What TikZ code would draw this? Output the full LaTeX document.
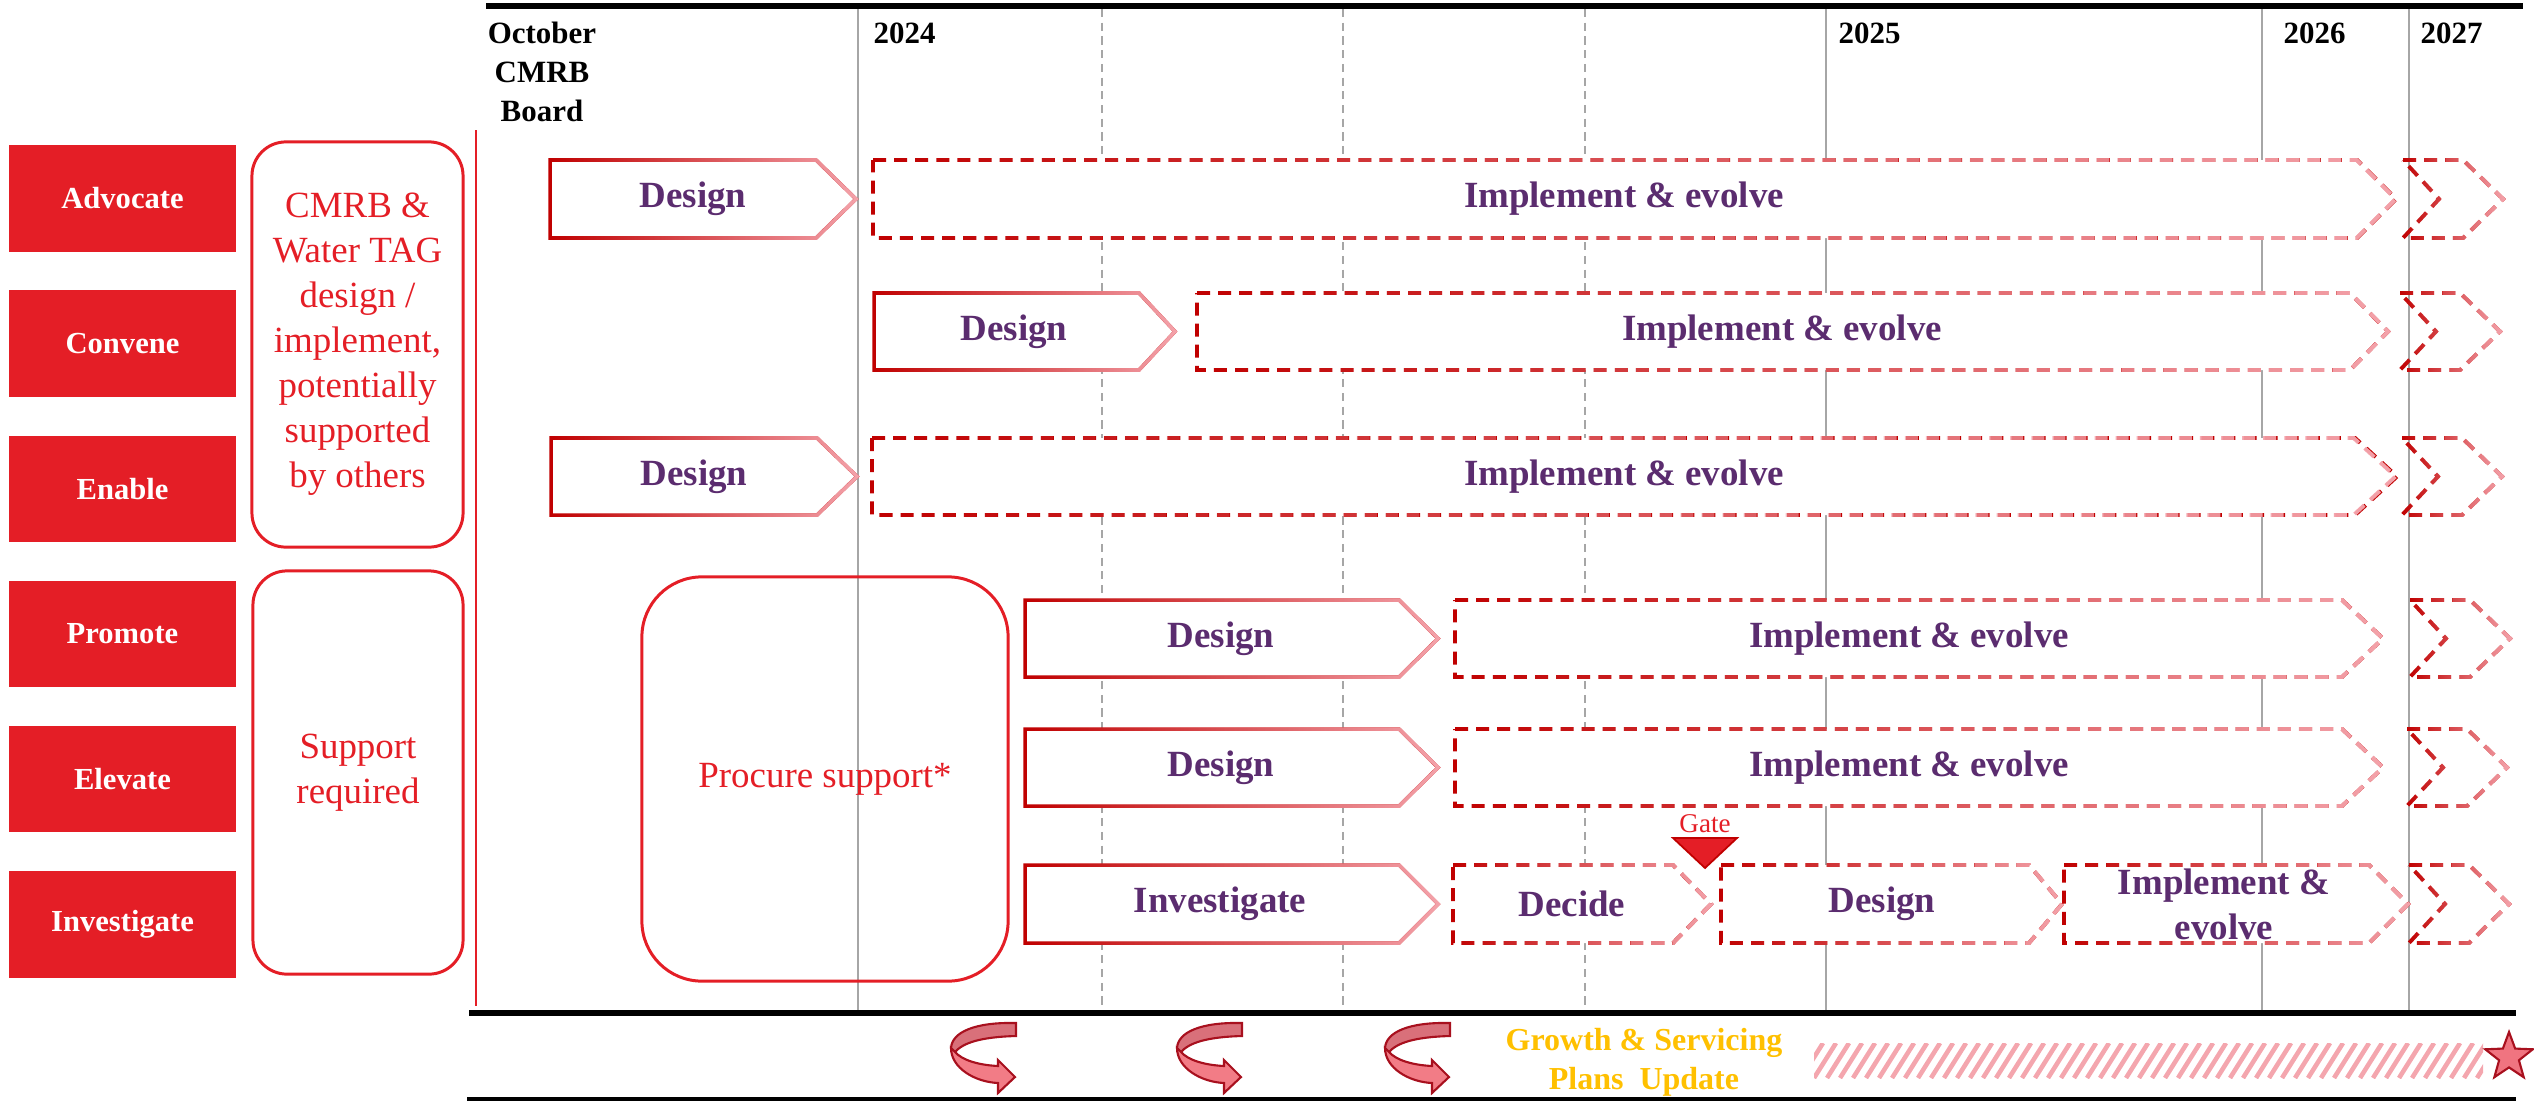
\documentclass[tikz,border=0pt]{standalone}
\usepackage{fontspec}
\setmainfont{Liberation Serif}
\usetikzlibrary{fadings,shapes.geometric}

\definecolor{boxred}{HTML}{E41E26}
\definecolor{phasedark}{HTML}{C00000}
\definecolor{phaselight}{HTML}{F4A3AB}
\definecolor{labelpurple}{HTML}{5B2C6F}
\definecolor{gridgray}{HTML}{A6A6A6}
\definecolor{updategold}{HTML}{FFC000}
\definecolor{hatchpink}{HTML}{F4A6AE}
\definecolor{starfill}{HTML}{F07480}
\definecolor{arrowback}{HTML}{D9707A}
\definecolor{arrowfront}{HTML}{F27C86}
\definecolor{arrowline}{HTML}{A8101E}

\tikzfading[name=phasefade, left color=transparent!100, right color=transparent!0]

\tikzstyle{rolebox}=[rectangle,fill=boxred,text=white,minimum width=2.27cm,minimum height=1.06cm,inner sep=0pt,font=\bfseries\fontsize{8.7}{10}\selectfont]
\tikzstyle{groupbox}=[rectangle,draw=boxred,line width=0.85pt,text=boxred,align=center,inner sep=0pt,font=\fontsize{10.5}{12.8}\selectfont]
\tikzstyle{phase label}=[text=labelpurple,align=center,inner sep=0pt,font=\bfseries\fontsize{10.5}{12.8}\selectfont]
\tikzstyle{year label}=[inner sep=0pt,font=\bfseries\fontsize{8.8}{11.1}\selectfont]
\tikzstyle{solid phase}=[line width=1pt]
\tikzstyle{dashed phase}=[line width=1.1pt,dash pattern=on 3.7pt off 2.3pt]
\tikzstyle{year line}=[draw=gridgray,line width=0.45pt]
\tikzstyle{quarter line}=[draw=gridgray,line width=0.45pt,dash pattern=on 2.3pt off 1.6pt]
\tikzstyle{frame rule}=[draw=black,line width=1.7pt]
\tikzstyle{hatch line}=[draw=hatchpink,line width=1.3pt]

% left, body end, tip, top, bottom, style
\newcommand{\phasearrow}[6]{%
	\path[fill=white] (#1,#4) -- (#2,#4) -- (#3,{(#4+#5)/2}) -- (#2,#5) -- (#1,#5) -- cycle;
	\draw[#6,phasedark] (#1,#4) -- (#2,#4) -- (#3,{(#4+#5)/2}) -- (#2,#5) -- (#1,#5) -- cycle;
	\draw[#6,phaselight,path fading=phasefade] (#1,#4) -- (#2,#4) -- (#3,{(#4+#5)/2}) -- (#2,#5) -- (#1,#5) -- cycle;
}
% left, top, bottom
\newcommand{\tailarrow}[3]{%
	\draw[dashed phase,phasedark] (#1,#2) -- ({#1+60},#2) -- ({#1+100},{(#2+#3)/2}) -- ({#1+60},#3) -- (#1,#3) -- ({#1+36},{(#2+#3)/2}) -- cycle;
	\draw[dashed phase,phaselight,path fading=phasefade] (#1,#2) -- ({#1+60},#2) -- ({#1+100},{(#2+#3)/2}) -- ({#1+60},#3) -- (#1,#3) -- ({#1+36},{(#2+#3)/2}) -- cycle;
}

\begin{document}
\begin{tikzpicture}[x=0.01cm,y=-0.01cm]
	\useasboundingbox (0,0) rectangle (2534,1103);
	% time grid
	\foreach \gx in {858,1826,2262,2409}
		\draw[year line] (\gx,9) -- (\gx,1011);
	\foreach \gx in {1102,1343,1585}
		\draw[quarter line] (\gx,9) -- (\gx,1011);
	\draw[frame rule] (486,6) -- (2523,6);
	\draw[frame rule] (469,1013) -- (2516,1013);
	\draw[draw=black,line width=1.2pt] (467,1099) -- (2516,1099);
	\draw[draw=boxred,line width=0.6pt] (476,130) -- (476,1006);

	\node[year label,align=center] (october) at (542,72) {October\\CMRB\\Board};
	\node[year label,anchor=west] (y2024) at (873,33) {2024};
	\node[year label,anchor=west] (y2025) at (1838,33) {2025};
	\node[year label,anchor=west] (y2026) at (2283,33) {2026};
	\node[year label,anchor=west] (y2027) at (2420,33) {2027};

	% roles and groups
	\foreach \role/\yc in {Advocate/198.5,Convene/343.5,Enable/489,Promote/634,Elevate/779,Investigate/924.5}
		\node[rolebox] (\role) at (122.5,\yc) {\role};
	\node[groupbox,rounded corners=0.34cm,minimum width=2.11cm,minimum height=4.05cm] (cmrb) at (357.5,344.5) {CMRB \&\\Water TAG\\design /\\implement,\\potentially\\supported\\by others};
	\node[groupbox,rounded corners=0.34cm,minimum width=2.1cm,minimum height=4.03cm] (support) at (358,772.5) {Support\\required};
	\node[groupbox,rounded corners=0.6cm,minimum width=3.66cm,minimum height=4.04cm] (procure) at (825,779) {Procure support*};

	% phases, row by row
	\phasearrow{550}{816}{856}{160}{238}{solid phase}
	\phasearrow{873}{2357}{2396}{160}{238}{dashed phase}
	\tailarrow{2403}{160}{238}
	\node[phase label] (design1) at (693,199) {Design};
	\node[phase label] (implement1) at (1624,199) {Implement \& evolve};

	\phasearrow{874}{1139}{1175}{293}{370}{solid phase}
	\phasearrow{1197}{2350}{2388}{293}{370}{dashed phase}
	\tailarrow{2400}{293}{370}
	\node[phase label] (design2) at (1014,331.5) {Design};
	\node[phase label] (implement2) at (1782,331.5) {Implement \& evolve};

	\phasearrow{551}{817}{857}{438}{515}{solid phase}
	\phasearrow{872}{2355}{2397}{438}{515}{dashed phase}
	\tailarrow{2402}{438}{515}
	\node[phase label] (design3) at (694,476.5) {Design};
	\node[phase label] (implement3) at (1624,476.5) {Implement \& evolve};

	\phasearrow{1025}{1399}{1438}{600}{677}{solid phase}
	\phasearrow{1455}{2342}{2383}{600}{677}{dashed phase}
	\tailarrow{2410}{600}{677}
	\node[phase label] (design4) at (1221,638.5) {Design};
	\node[phase label] (implement4) at (1909,638.5) {Implement \& evolve};

	\phasearrow{1025}{1399}{1438}{729}{806}{solid phase}
	\phasearrow{1455}{2342}{2383}{729}{806}{dashed phase}
	\tailarrow{2407}{729}{806}
	\node[phase label] (design5) at (1221,767.5) {Design};
	\node[phase label] (implement5) at (1909,767.5) {Implement \& evolve};

	\phasearrow{1025}{1399}{1438}{865}{943}{solid phase}
	\phasearrow{1453}{1673}{1711}{865}{943}{dashed phase}
	\phasearrow{1721}{2029}{2062}{865}{943}{dashed phase}
	\phasearrow{2064}{2369}{2408}{865}{943}{dashed phase}
	\tailarrow{2409}{865}{943}
	\node[phase label] (investigate6) at (1220,904) {Investigate};
	\node[phase label] (decide6) at (1572,904) {Decide};
	\node[phase label] (design6) at (1882,904) {Design};
	\node[phase label] (implement6) at (2224,904) {Implement \&\\evolve};

	% gate
	\filldraw[fill=boxred,draw=phasedark,line width=0.5pt] (1673,838) -- (1737,838) -- (1705,868) -- cycle;
	\node[text=boxred,inner sep=0pt,font=\fontsize{7.7}{9}\selectfont] (gate) at (1705,824) {Gate};

	% plan updates
	\foreach \ox in {930,1156,1364} {
		\begin{scope}[shift={(\ox,1010)}]
			\filldraw[fill=arrowback,draw=arrowline,line width=0.6pt] (86,13) .. controls (45,12) and (22,22) .. (21,38) -- (25,42) .. controls (33,33) and (50,27) .. (86,26) -- cycle;
			\filldraw[fill=arrowfront,draw=arrowline,line width=0.6pt] (21,38) .. controls (21,58) and (45,72) .. (68,73) -- (68,83) -- (85,67) -- (68,50) -- (68,56) .. controls (48,55) and (32,50) .. (25,42) -- cycle;
		\end{scope}
	}
	\node[text=updategold,align=center,inner sep=0pt,font=\bfseries\fontsize{9.1}{11.1}\selectfont] (update) at (1644,1062) {Growth \& Servicing\\Plans~~Update};
	\begin{scope}
		\clip (1814,1043) rectangle (2483,1078);
		\foreach \hx in {1788,1801,...,2490}
			\draw[hatch line] (\hx,1078) -- ++(22,-35);
	\end{scope}
	\node[star,star points=5,star point ratio=2.4,fill=starfill,draw=arrowline,line width=0.6pt,minimum size=0.5cm,inner sep=0pt] (finish) at (2509,1057) {};
\end{tikzpicture}
\end{document}
